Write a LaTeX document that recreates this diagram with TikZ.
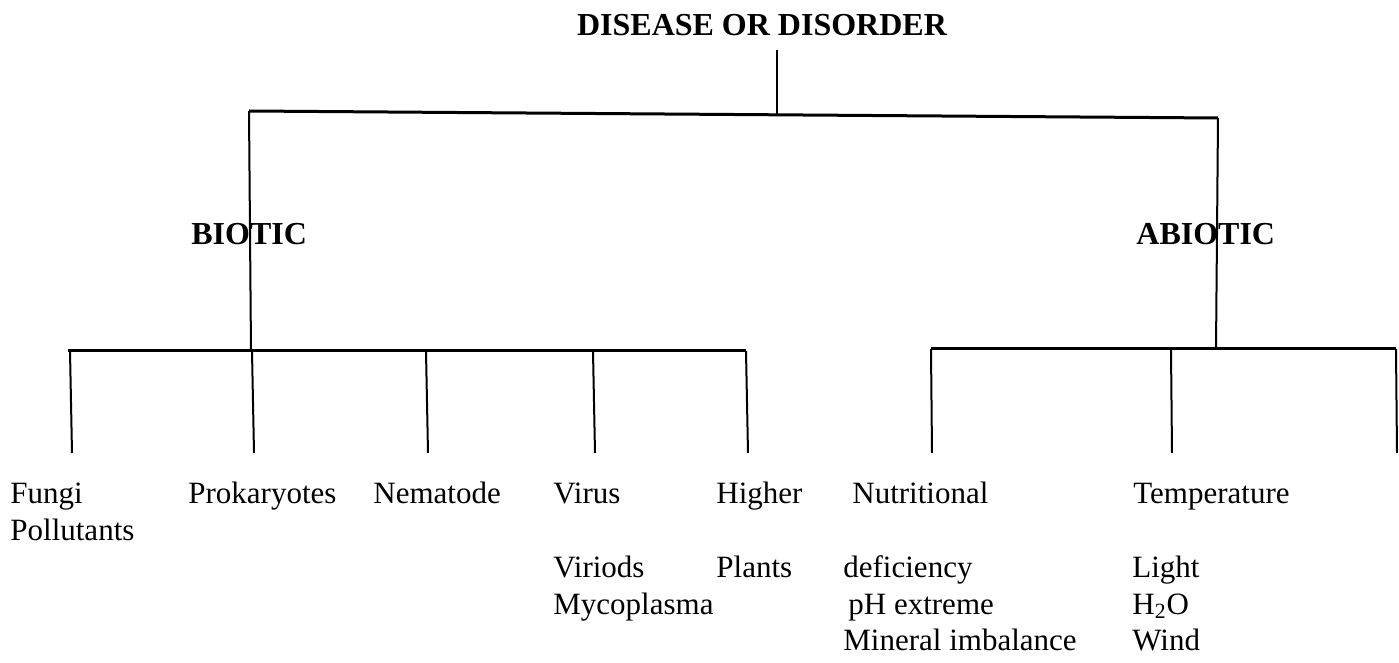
\documentclass[tikz,border=0pt]{standalone}
\usepackage{fontspec}
\setmainfont{Liberation Serif}
\begin{document}
\begin{tikzpicture}[x=0.5pt,y=-0.5pt,
	lbl/.style={anchor=base west,inner sep=0pt,font=\fontsize{15.5}{18}\selectfont},
	head/.style={anchor=base west,inner sep=0pt,font=\fontsize{16}{19}\selectfont\bfseries},
	stem/.style={line width=1pt},
	bar/.style={line width=1.5pt}]
	\useasboundingbox (0,0) rectangle (1399,663);
	\node[head,anchor=base] (title) at (762,36) {DISEASE OR DISORDER};
	\coordinate (title-foot) at (777,50);
	\coordinate (top-mid) at (777,114);
	\coordinate (top-left) at (249,111);
	\coordinate (top-right) at (1218,118);
	\draw[stem] (title-foot) -- (top-mid);
	\draw[bar] (top-left) -- (top-right);
	\coordinate (bio-bar) at (251,351);
	\coordinate (abio-bar) at (1216,349);
	\draw[stem] (top-left) -- (bio-bar);
	\draw[stem] (top-right) -- (abio-bar);
	\node[head] (biotic) at (191,245) {BIOTIC};
	\node[head] (abiotic) at (1136,245) {ABIOTIC};
	\draw[bar] (68,351) coordinate (bio-l) -- (746,351) coordinate (bio-r);
	\draw[bar] (931,349) coordinate (abio-l) -- (1396,349) coordinate (abio-r);
	\foreach \x/\n in {70/fungi,252/prok,426/nema,593/virus,746/higher}{
		\coordinate (\n-top) at (\x,351);
		\coordinate (\n-end) at (\x+2,453);
		\draw[stem] (\n-top) -- (\n-end);
	}
	\foreach \x/\n in {931/nutri,1171/temp,1396/other}{
		\coordinate (\n-top) at (\x,349);
		\coordinate (\n-end) at (\x+1,453);
		\draw[stem] (\n-top) -- (\n-end);
	}
	\node[lbl] (fungi) at (10,503) {Fungi};
	\node[lbl] (pollut) at (10,540) {Pollutants};
	\node[lbl] (prok) at (188,503) {Prokaryotes};
	\node[lbl] (nema) at (373,503) {Nematode};
	\node[lbl] (virus) at (553,503) {Virus};
	\node[lbl] (viriods) at (553,577) {Viriods};
	\node[lbl] (myco) at (553,614) {Mycoplasma};
	\node[lbl] (higher) at (716,503) {Higher};
	\node[lbl] (plants) at (716,577) {Plants};
	\node[lbl] (nutri) at (852,503) {Nutritional};
	\node[lbl] (defic) at (843,577) {deficiency};
	\node[lbl] (ph) at (848,614) {pH extreme};
	\node[lbl] (mineral) at (843,650) {Mineral imbalance};
	\node[lbl] (temp) at (1133,503) {Temperature};
	\node[lbl] (light) at (1132,577) {Light};
	\node[lbl] (water) at (1132,614) {H\textsubscript{2}O};
	\node[lbl] (wind) at (1132,650) {Wind};
\end{tikzpicture}
\end{document}
